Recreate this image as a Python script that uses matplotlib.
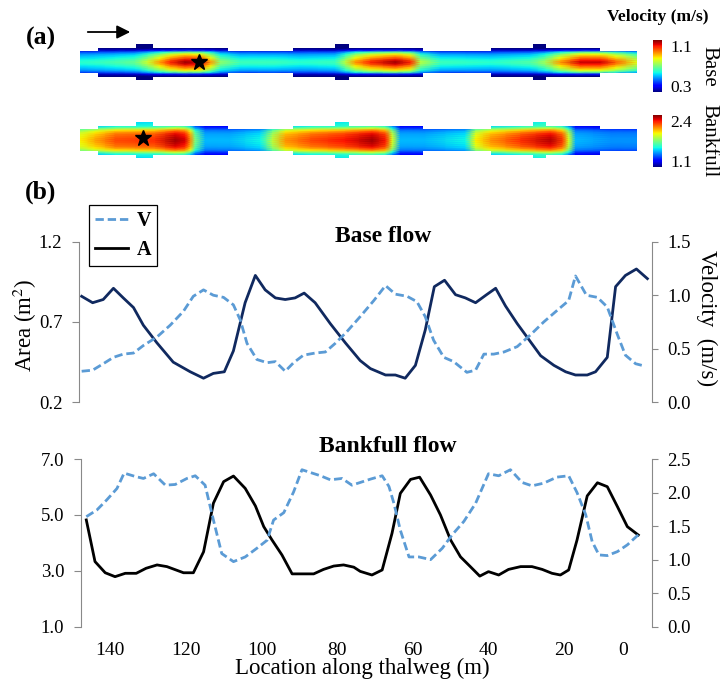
import numpy as np
import matplotlib
matplotlib.use('Agg')
import matplotlib.pyplot as plt
from matplotlib.patches import Polygon, FancyArrowPatch
from matplotlib.lines import Line2D
from matplotlib.transforms import ScaledTranslation

plt.rcParams['font.family'] = ['Liberation Serif', 'DejaVu Serif']
plt.rcParams['mathtext.fontset'] = 'stix'

W, H = 720, 681


# ---------------- panel (b): values ----------------
# base flow, cross-section area (m2) and mean velocity (m/s)
base_loc_a = [147.5, 144.6, 141.8, 139.1, 136.5, 133.8, 131.2, 127.6, 123.3, 118.8,
              115.3, 112.7, 109.8, 107.4, 104.3, 101.6, 99.0, 96.3, 93.7, 91.1,
              88.7, 85.8, 81.8, 77.8, 73.9, 71.2, 67.2, 64.6, 62.0, 59.3,
              56.7, 54.3, 51.6, 48.7, 46.1, 43.4, 40.5, 38.1, 35.5, 32.4,
              29.3, 26.2, 22.7, 19.6, 17.0, 13.9, 11.7, 8.6, 6.4, 3.8, 0.9, -2.0]
base_area = [0.86, 0.82, 0.84, 0.91, 0.85, 0.79, 0.68, 0.57, 0.45, 0.39,
             0.35, 0.38, 0.39, 0.52, 0.82, 0.99, 0.90, 0.85, 0.84, 0.85,
             0.88, 0.82, 0.69, 0.57, 0.46, 0.41, 0.37, 0.37, 0.35, 0.43,
             0.65, 0.92, 0.96, 0.87, 0.85, 0.82, 0.87, 0.91, 0.80, 0.69,
             0.59, 0.49, 0.43, 0.39, 0.37, 0.37, 0.39, 0.48, 0.92, 0.99, 1.03, 0.97]

base_loc_v = [147.5, 144.6, 141.8, 139.1, 136.5, 133.8, 131.2, 127.6, 124.1, 120.6,
              118.0, 115.3, 112.7, 110.0, 107.4, 105.6, 103.8, 101.2, 98.5, 96.3,
              93.7, 91.5, 88.9, 85.8, 83.1, 80.5, 77.4, 73.9, 70.3, 67.2,
              64.6, 61.5, 58.9, 56.7, 54.5, 51.8, 49.2, 45.7, 43.4, 41.2,
              38.6, 35.9, 32.4, 28.9, 25.4, 21.8, 18.8, 17.0, 14.1, 11.2,
              8.6, 5.9, 3.8, 1.1, -1.1]
base_vel = [0.29, 0.30, 0.36, 0.42, 0.45, 0.46, 0.53, 0.61, 0.72, 0.85,
            0.99, 1.05, 1.00, 0.98, 0.91, 0.77, 0.55, 0.40, 0.37, 0.38,
            0.29, 0.37, 0.44, 0.46, 0.47, 0.55, 0.66, 0.80, 0.95, 1.09,
            1.01, 0.99, 0.94, 0.80, 0.58, 0.42, 0.38, 0.28, 0.30, 0.45,
            0.45, 0.47, 0.52, 0.63, 0.75, 0.86, 0.95, 1.18, 1.00, 0.98,
            0.89, 0.63, 0.44, 0.36, 0.34]

# bankfull flow
bank_loc_a = [146.3, 144.0, 141.3, 138.7, 136.0, 133.1, 130.5, 127.6, 125.0, 120.6,
              118.0, 115.3, 112.7, 110.0, 107.4, 104.3, 101.6, 99.4, 97.2, 94.6,
              91.9, 89.3, 86.2, 83.6, 80.9, 78.3, 75.6, 73.9, 70.8, 68.1,
              65.5, 63.3, 60.6, 58.2, 55.3, 52.7, 50.0, 47.4, 44.8, 42.3,
              40.0, 37.3, 34.7, 31.5, 28.5, 25.8, 23.2, 21.0, 18.8, 16.6,
              13.9, 11.2, 8.6, 5.9, 3.3, 0.4]
bank_area = [4.82, 3.33, 2.93, 2.79, 2.91, 2.91, 3.09, 3.21, 3.15, 2.93,
             2.93, 3.68, 5.42, 6.19, 6.39, 5.95, 5.32, 4.58, 4.10, 3.57,
             2.89, 2.89, 2.89, 3.05, 3.17, 3.21, 3.13, 2.98, 2.85, 3.03,
             4.34, 5.77, 6.27, 6.35, 5.71, 5.00, 4.10, 3.50, 3.15, 2.81,
             2.97, 2.85, 3.05, 3.15, 3.15, 3.05, 2.91, 2.85, 3.03, 4.10,
             5.68, 6.15, 6.01, 5.29, 4.58, 4.28]

bank_loc_v = [146.3, 143.5, 140.9, 138.2, 136.3, 133.4, 131.2, 128.5, 125.4, 122.8,
              119.7, 117.5, 114.9, 112.7, 110.5, 107.4, 104.3, 101.2, 98.5, 96.8,
              94.1, 91.5, 89.3, 86.6, 84.4, 81.8, 78.7, 76.1, 73.9, 71.2,
              68.1, 66.3, 65.0, 63.3, 61.0, 58.4, 55.3, 52.2, 49.6, 46.5,
              43.4, 40.0, 37.3, 34.2, 31.1, 28.5, 25.4, 21.9, 18.8, 16.6,
              14.3, 12.6, 10.8, 8.6, 5.9, 3.3, 0.4]
bank_vel = [1.64, 1.74, 1.89, 2.06, 2.29, 2.24, 2.21, 2.28, 2.11, 2.12,
            2.21, 2.25, 2.11, 1.59, 1.09, 0.97, 1.04, 1.17, 1.29, 1.59,
            1.70, 2.01, 2.34, 2.29, 2.25, 2.19, 2.21, 2.11, 2.15, 2.20,
            2.25, 2.09, 1.84, 1.44, 1.04, 1.04, 1.00, 1.17, 1.37, 1.57,
            1.84, 2.28, 2.25, 2.34, 2.15, 2.10, 2.14, 2.23, 2.25, 2.00,
            1.67, 1.27, 1.07, 1.06, 1.12, 1.22, 1.37]

x_ticks = [140, 120, 100, 80, 60, 40, 20, 0]

# ---------------- panel (a): channel plan view ----------------
# section breaks along the thalweg (m) and half width of each section
reach_breaks = [147.9, 143.2, 133.1, 128.6, 108.8, 91.6, 80.5, 76.8,
                57.2, 39.2, 28.1, 24.7, 10.4, 0.85]
reach_halfwidth = [11, 14.5, 18, 14.5, 11, 14.5, 18, 14.5, 11, 14.5, 18, 14.5, 11]

# centre-line velocity
base_cl_loc = [147.9, 144.0, 138.7, 133.4, 130.0, 126.8, 124.1, 120.2, 116.2, 113.5,
               110.9, 105.6, 96.3, 89.7, 80.5, 77.8, 75.2, 71.2, 64.6, 60.6,
               58.0, 52.7, 39.5, 28.9, 24.9, 21.0, 15.8, 10.4, 6.4, 0.85]
base_cl_vel = [0.62, 0.63, 0.65, 0.68, 0.78, 0.90, 1.00, 1.08, 1.05, 0.90,
               0.72, 0.64, 0.64, 0.62, 0.64, 0.76, 0.90, 1.00, 1.08, 1.00,
               0.76, 0.64, 0.62, 0.66, 0.74, 0.90, 1.05, 1.05, 0.95, 0.80]
bank_cl_loc = [147.9, 144.0, 138.7, 128.1, 122.8, 120.2, 118.8, 117.5, 114.9, 108.3,
               100.3, 97.1, 93.7, 87.1, 77.8, 70.7, 67.2, 65.4, 63.3, 56.7,
               46.1, 43.4, 39.5, 31.5, 23.6, 20.4, 18.8, 17.0, 7.7, 0.85]
bank_cl_vel = [1.95, 2.05, 2.18, 2.22, 2.36, 2.30, 2.10, 1.75, 1.50, 1.50,
               1.58, 1.85, 2.08, 2.18, 2.26, 2.36, 2.25, 1.90, 1.50, 1.50,
               1.58, 1.95, 2.08, 2.22, 2.34, 2.20, 1.90, 1.50, 1.45, 1.45]

# share of the centre-line excess kept across the channel
lat_offset = [0, 2, 4, 6, 8, 10, 12, 14, 18]
base_lat = [1.0, 0.95, 0.86, 0.78, 0.68, 0.50, 0.15, 0.0, 0.0]
bank_lat = [1.0, 0.99, 0.97, 0.95, 0.90, 0.82, 0.65, 0.50, 0.45]
base_edge, bank_edge = 0.3, 1.0
base_range = (0.3, 1.1)
bank_range = (1.1, 2.4)
base_star = (116.5, 0)
bank_star = (131.3, 2)


def fbox(x0, y0, x1, y1):
    return [x0 / W, 1 - y1 / H, (x1 - x0) / W, (y1 - y0) / H]


def channel(ax, cl_loc, cl_vel, lat, edge, vrange):
    off = np.array(lat_offset, dtype=float)
    yy = np.r_[-off[:0:-1], off]
    gg = np.r_[np.array(lat)[:0:-1], lat]
    X, Y = np.meshgrid(cl_loc, yy)
    C = edge + (np.array(cl_vel)[None, :] - edge) * gg[:, None]
    mesh = ax.pcolormesh(X, Y, C, cmap='jet', vmin=vrange[0], vmax=vrange[1],
                         shading='gouraud')
    top = []
    for i, h in enumerate(reach_halfwidth):
        top += [(reach_breaks[i], h), (reach_breaks[i + 1], h)]
    bot = [(x, -y) for x, y in top[::-1]]
    poly = Polygon(top + bot, closed=True, facecolor='none', edgecolor='none')
    ax.add_patch(poly)
    mesh.set_clip_path(poly)
    ax.set_xlim(148.2, -3.3)
    ax.set_ylim(-19, 19)
    ax.axis('off')
    return mesh


fig = plt.figure(figsize=(W / 100, H / 100), dpi=100)

# ---- (a) maps ----
axm1 = fig.add_axes(fbox(79, 43, 652.3, 81))
m1 = channel(axm1, base_cl_loc, base_cl_vel, base_lat, base_edge, base_range)
axm1.plot(*base_star, marker='*', color='k', ms=12, mec='k')
axm2 = fig.add_axes(fbox(79, 121, 652.3, 159))
m2 = channel(axm2, bank_cl_loc, bank_cl_vel, bank_lat, bank_edge, bank_range)
axm2.plot(*bank_star, marker='*', color='k', ms=12, mec='k')

for mesh, box, lo, hi, name in [(m1, (653, 40, 662, 92), '0.3', '1.1', 'Base'),
                                (m2, (653, 115, 662, 167), '1.1', '2.4', 'Bankfull')]:
    cax = fig.add_axes(fbox(*box))
    cb = fig.colorbar(mesh, cax=cax)
    cb.set_ticks([])
    cb.outline.set_visible(False)
    fig.text(670 / W, 1 - (box[1] + 8) / H, hi, ha='left', va='center', fontsize=12.5)
    fig.text(670 / W, 1 - (box[3] - 4) / H, lo, ha='left', va='center', fontsize=12.5)
    fig.text(709 / W, 1 - (box[1] + box[3]) / 2 / H, name, ha='center', va='center',
             rotation=-90, fontsize=15)

fig.text(658 / W, 1 - 17 / H, 'Velocity (m/s)', ha='center', va='center',
         fontsize=12.5, fontweight='bold')
fig.text(41 / W, 1 - 38 / H, '(a)', ha='center', va='center', fontsize=18.5,
         fontweight='bold')
fig.text(41 / W, 1 - 192 / H, '(b)', ha='center', va='center', fontsize=18.5,
         fontweight='bold')
fig.add_artist(FancyArrowPatch((85 / W, 1 - 32 / H), (133 / W, 1 - 32 / H),
                               transform=fig.transFigure, arrowstyle='-|>',
                               mutation_scale=20, lw=1.3, color='k'))

# ---- (b) line plots ----
grey = '#898989'
blue = '#5B9BD5'
navy = '#10295F'


def style(ax, axr, xlim, ylim, yticks, ylimr, yticksr):
    ax.set_xlim(*xlim)
    ax.set_ylim(*ylim)
    ax.set_yticks(yticks)
    ax.set_yticklabels(['%.1f' % t for t in yticks])
    axr.set_ylim(*ylimr)
    axr.set_yticks(yticksr)
    axr.set_yticklabels(['%.1f' % t for t in yticksr])
    for a in (ax, axr):
        a.patch.set_visible(False)
        for s in ('top', 'bottom'):
            a.spines[s].set_visible(False)
    ax.spines['right'].set_visible(False)
    axr.spines['left'].set_visible(False)
    ax.spines['left'].set_color(grey)
    axr.spines['right'].set_color(grey)
    ax.tick_params(axis='y', direction='out', length=5, color=grey, labelsize=13.5, pad=7)
    axr.tick_params(axis='y', direction='out', length=4, color=grey, labelsize=13.5, pad=7)


ax1 = fig.add_axes(fbox(79, 241.7, 652.3, 402.3))
ax1r = ax1.twinx()
ax1.plot(base_loc_a, base_area, color=navy, lw=2.0)
ax1r.plot(base_loc_v, base_vel, color=blue, lw=2.0, dashes=(3, 1.4))
style(ax1, ax1r, (148.2, -3.3), (0.2, 1.2), [0.2, 0.7, 1.2], (0, 1.5), [0, 0.5, 1.0, 1.5])
ax1.tick_params(axis='x', bottom=False, labelbottom=False)

ax2 = fig.add_axes(fbox(81, 459, 652.3, 626.7))
ax2r = ax2.twinx()
ax2.plot(bank_loc_a, bank_area, color='k', lw=2.0)
ax2r.plot(bank_loc_v, bank_vel, color=blue, lw=2.0, dashes=(3, 1.4))
style(ax2, ax2r, (147.7, -3.3), (1, 7), [1, 3, 5, 7], (0, 2.5), [0, 0.5, 1.0, 1.5, 2.0, 2.5])
ax2.set_xticks(x_ticks)
ax2.set_xticklabels([str(t) for t in x_ticks])
ax2.tick_params(axis='x', length=0, labelsize=14, pad=11)
lbl = ax2.get_xticklabels()[-1]
lbl.set_transform(lbl.get_transform() + ScaledTranslation(-0.17, 0, fig.dpi_scale_trans))

fig.text(25 / W, 1 - 325 / H, 'Area (m$^2$)', rotation=90, ha='center', va='center',
         fontsize=16.5)
fig.text(707 / W, 1 - 318 / H, 'Velocity  (m/s)', rotation=-90, ha='center', va='center',
         fontsize=16.5)
fig.text(362 / W, 1 - 668 / H, 'Location along thalweg (m)', ha='center', va='center',
         fontsize=16.5)
fig.text(383 / W, 1 - 237 / H, 'Base flow', ha='center', va='center', fontsize=17,
         fontweight='bold')
fig.text(388 / W, 1 - 446 / H, 'Bankfull flow', ha='center', va='center', fontsize=17,
         fontweight='bold')

handles = [Line2D([], [], color=blue, lw=2.0, dashes=(3, 1.4)),
           Line2D([], [], color='k', lw=2.0)]
leg = fig.legend(handles, ['V', 'A'], loc='upper left',
                 bbox_to_anchor=(89 / W, 1 - 205 / H), bbox_transform=fig.transFigure,
                 frameon=True, fancybox=False, edgecolor='k', framealpha=1,
                 prop={'weight': 'bold', 'size': 14.5}, handlelength=1.65,
                 handletextpad=0.4, labelspacing=0.45, borderpad=0.3, borderaxespad=0)
leg.get_frame().set_linewidth(0.9)

fig.savefig('out.png', dpi=100)
